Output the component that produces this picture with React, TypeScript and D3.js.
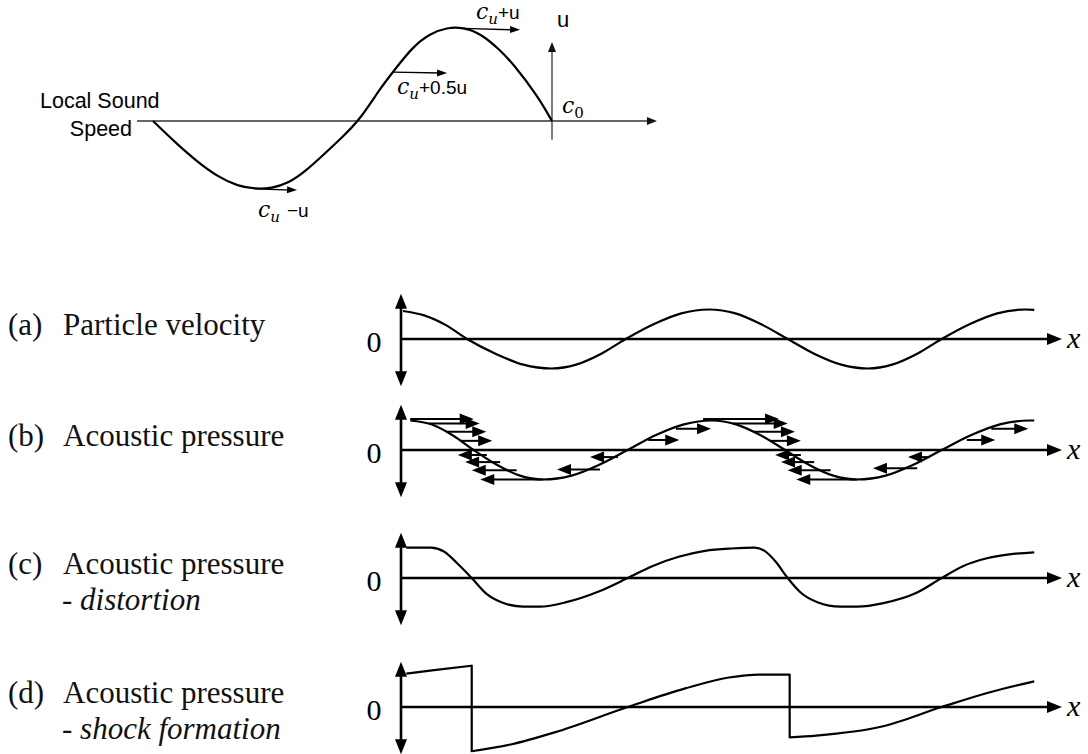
import React from "react";
import * as d3 from "d3";

// ---------- Top diagram data (x: 0 = wave start, 100 = u-axis; y: u / u_max) ----------
const topWave: [number, number][] = [
  [0, 0], [5.5, -0.225], [11.0, -0.43], [16.3, -0.595], [21.3, -0.694], [25.6, -0.723],
  [29.8, -0.715], [33.8, -0.665], [38.1, -0.54], [43.1, -0.345], [47.4, -0.172], [51.6, 0],
  [56.9, 0.345], [60.2, 0.525], [65.2, 0.795], [69.4, 0.93], [73.7, 0.995], [77.7, 0.995],
  [82.0, 0.935], [87.0, 0.755], [90.2, 0.61], [96.2, 0.28], [100, 0],
];
// speed arrows: [x0, y0, x1, y1]
const topArrows: [number, number, number, number][] = [
  [25.6, -0.72, 36.1, -0.735],
  [60.2, 0.52, 73.7, 0.51],
  [77.7, 0.985, 92.0, 0.97],
];
const topAxisX: [number, number] = [-4, 126.3];
const topAxisU: [number, number] = [-0.2, 0.84];

// ---------- Lower panels (x: 0..100 along the axis; y: normalised amplitude) ----------
const panelLetters = ["(a)", "(b)", "(c)", "(d)"];
const panelTitles = ["Particle velocity", "Acoustic pressure", "Acoustic pressure", "Acoustic pressure"];
const panelSubtitles = ["", "", "distortion", "shock formation"];

const waveA: [number, number][] = [
  [0.3, 0.95], [3.5, 0.8], [6.8, 0.47], [10, 0], [14.3, -0.5], [18.5, -0.87], [22.8, -1],
  [26.5, -0.87], [30.3, -0.5], [34, 0], [38.2, 0.5], [42.4, 0.87], [46.6, 1], [50.6, 0.87],
  [54.5, 0.5], [58.5, 0], [62.5, -0.5], [66.6, -0.87], [70.6, -1], [74.3, -0.87], [78.1, -0.5],
  [81.8, 0], [86, 0.5], [90.2, 0.87], [94.5, 1.0], [95.8, 0.99],
];
const waveB: [number, number][] = [
  [1.4, 1.0], [4.6, 0.87], [7.8, 0.5], [11, 0], [14.5, -0.5], [18, -0.87], [21.5, -1],
  [25.8, -0.87], [30, -0.5], [34.3, 0], [38.5, 0.5], [42.8, 0.87], [47, 1], [50.7, 0.87],
  [54.4, 0.5], [58.1, 0], [61.7, -0.5], [65.4, -0.87], [69, -1], [73.3, -0.87], [77.5, -0.5],
  [81.8, 0], [86.2, 0.5], [90.6, 0.87], [95, 1], [95.8, 1],
];
// pressure-point speed arrows on (b): [y, tail x, head x]
const arrowsB: [number, number, number][] = [
  [1.05, 1.4, 11.0], [0.9, 4.2, 11.9], [0.62, 6.9, 12.9], [0.31, 9.1, 13.8],
  [-0.17, 13.0, 8.6], [-0.41, 15.0, 9.7], [-0.69, 17.5, 10.7], [-1.0, 21.5, 12.0],
  [-0.66, 30.1, 23.6], [-0.24, 32.8, 28.6], [0.34, 37.4, 42.1], [0.72, 41.6, 46.9],
  [1.05, 45.7, 57.2], [0.9, 50.2, 58.5], [0.62, 53.4, 59.6], [0.31, 55.9, 60.5],
  [-0.17, 60.5, 56.6], [-0.41, 62.5, 57.5], [-0.69, 65.0, 58.5], [-1.0, 69.0, 59.8],
  [-0.62, 78.1, 71.4], [-0.24, 80.0, 76.7], [0.34, 85.6, 89.9], [0.72, 89.3, 94.9],
];
const waveC: [number, number][] = [
  [0.8, 1.03], [4.5, 1.03], [6.5, 0.9], [8.5, 0.5], [10.7, 0], [13, -0.55], [15.5, -0.85],
  [18.5, -0.97], [21, -0.97], [25, -0.82], [30, -0.45], [34.3, 0], [38, 0.4], [42, 0.72],
  [46, 0.92], [50, 1.0], [53.5, 1.03], [55, 0.92], [56.7, 0.55], [58.5, 0], [60.5, -0.5],
  [63, -0.82], [66.5, -0.97], [69, -0.97], [73, -0.85], [78, -0.5], [81.8, 0], [85, 0.4],
  [88.5, 0.66], [92, 0.8], [95.8, 0.87],
];
// shock wave: smooth pieces joined by vertical jumps
const waveD: [number, number][][] = [
  [[0.8, 1.13], [5, 1.25], [10.7, 1.4]],
  [[10.7, -1.5], [16.6, -1.27], [23.1, -0.87], [34.3, 0], [43.0, 0.63], [49.6, 1.0], [54.2, 1.1], [58.8, 1.1]],
  [[58.8, -1.03], [62.8, -0.97], [72.6, -0.67], [81.8, 0], [89.1, 0.5], [95.8, 0.87]],
];

// ---------- layout ----------
const W = 1088, H = 754;
const panelAxisY = [339, 450, 578, 707];
const AMP = 29.5;

function head(x1: number, y1: number, x2: number, y2: number, len: number, w: number) {
  const dx = x2 - x1, dy = y2 - y1;
  const L = Math.hypot(dx, dy) || 1;
  const ux = dx / L, uy = dy / L;
  const bx = x2 - ux * len, by = y2 - uy * len;
  const px = -uy * (w / 2), py = ux * (w / 2);
  return `${x2},${y2} ${bx + px},${by + py} ${bx - px},${by - py}`;
}

const serif = "'Liberation Serif', 'Times New Roman', serif";
const sans = "'Liberation Sans', Arial, sans-serif";
const math = "'DejaVu Serif', serif";

function CU({ x, y, rest, sub = "u", gap = 0, subItalic = true }: { x: number; y: number; rest: string; sub?: string; gap?: number; subItalic?: boolean }) {
  return (
    <text x={x} y={y} fill="#000">
      <tspan fontFamily={math} fontStyle="italic" fontSize={22}>c</tspan>
      <tspan fontFamily={math} fontStyle={subItalic ? "italic" : "normal"} fontSize={15} dy={5}>{sub}</tspan>
      <tspan fontFamily={sans} fontSize={19} dy={-5} dx={gap}>{rest}</tspan>
    </text>
  );
}

export default function App() {
  const tx = d3.scaleLinear().domain([0, 100]).range([153, 552]);
  const ty = d3.scaleLinear().domain([0, 1]).range([121, 27]);
  const topLine = d3.line<[number, number]>().x(d => tx(d[0])).y(d => ty(d[1])).curve(d3.curveBasis);

  const lx = d3.scaleLinear().domain([0, 100]).range([401, 1062]);

  const ax0 = tx(topAxisX[0]), ax1 = tx(topAxisX[1]);
  const uX = tx(100), u0 = ty(topAxisU[0]), u1 = ty(topAxisU[1]);

  const waves = [waveA, waveB, waveC];

  return (
    <svg width={W} height={H} style={{ position: "absolute", left: 0, top: 0, background: "#fff" }}>
      {/* ---------- top diagram ---------- */}
      <line x1={ax0} y1={ty(0)} x2={ax1 - 8} y2={ty(0)} stroke="#333" strokeWidth={1.4} />
      <polygon points={head(ax0, ty(0), ax1, ty(0), 10, 8)} fill="#111" />
      <line x1={uX} y1={u0} x2={uX} y2={u1 + 8} stroke="#444" strokeWidth={1.4} />
      <polygon points={head(uX, u0, uX, u1, 10, 8)} fill="#111" />
      <path d={topLine(topWave) || ""} fill="none" stroke="#000" strokeWidth={2.2} />
      {topArrows.map((a, i) => {
        const x1 = tx(a[0]), y1 = ty(a[1]), x2 = tx(a[2]), y2 = ty(a[3]);
        return (
          <g key={i}>
            <line x1={x1} y1={y1} x2={x2 - 6} y2={y2} stroke="#000" strokeWidth={1.4} />
            <polygon points={head(x1, y1, x2, y2, 10, 7)} fill="#000" />
          </g>
        );
      })}
      <text x={40} y={108} fontFamily={sans} fontSize={21.5} fill="#000">Local Sound</text>
      <text x={132} y={136} fontFamily={sans} fontSize={21.5} fill="#000" textAnchor="end">Speed</text>
      <text x={557} y={27} fontFamily={sans} fontSize={22} fill="#000">u</text>
      <CU x={562} y={113} rest="" sub="0" subItalic={false} />
      <CU x={258} y={217} rest="−u" gap={7} />
      <CU x={397} y={94} rest="+0.5u" />
      <CU x={476} y={19} rest="+u" />

      {/* ---------- lower panels ---------- */}
      {panelAxisY.map((ay, i) => {
        const ly = d3.scaleLinear().domain([0, 1]).range([ay, ay - AMP]);
        const line = d3.line<[number, number]>().x(d => lx(d[0])).y(d => ly(d[1])).curve(d3.curveMonotoneX);
        let dPath = "";
        if (i < 3) dPath = line(waves[i]) || "";
        else dPath = waveD.map((seg, k) => { const s = line(seg) || ""; return k === 0 ? s : s.replace(/^M/, "L"); }).join("");
        const vx = lx(0);
        const top = ly(1.53), bot = ly(-1.6);
        const xEnd = lx(100);
        return (
          <g key={i}>
            <line x1={vx} y1={top + 10} x2={vx} y2={bot - 10} stroke="#000" strokeWidth={2.6} />
            <polygon points={head(vx, ay, vx, top, 15, 12)} fill="#000" />
            <polygon points={head(vx, ay, vx, bot, 15, 12)} fill="#000" />
            <line x1={vx} y1={ay} x2={xEnd - 10} y2={ay} stroke="#000" strokeWidth={2.4} />
            <polygon points={head(vx, ay, xEnd, ay, 15, 12)} fill="#000" />
            <path d={dPath} fill="none" stroke="#000" strokeWidth={2.2} strokeLinejoin="round" />
            {i === 1 && arrowsB.map((a, k) => {
              const yy = ly(a[0]), x1 = lx(a[1]), x2 = lx(a[2]);
              const dir = x2 > x1 ? 1 : -1;
              return (
                <g key={k}>
                  <line x1={x1} y1={yy} x2={x2 - dir * 8} y2={yy} stroke="#000" strokeWidth={2} />
                  <polygon points={head(x1, yy, x2, yy, 14, 11)} fill="#000" />
                </g>
              );
            })}
            <text x={374} y={ay + 13} fontFamily={serif} fontSize={30} textAnchor="middle" fill="#000">0</text>
            <text x={1067} y={ay + 9} fontFamily={serif} fontStyle="italic" fontSize={30} fill="#000">x</text>
            <text x={8} y={ay - 4} fontFamily={serif} fontSize={31} fill="#111">{panelLetters[i]}</text>
            <text x={63} y={ay - 4} fontFamily={serif} fontSize={31} fill="#111">{panelTitles[i]}</text>
            {panelSubtitles[i] && (
              <text x={62} y={ay + 32} fontFamily={serif} fontSize={31} fill="#111">
                <tspan>- </tspan>
                <tspan fontStyle="italic">{panelSubtitles[i]}</tspan>
              </text>
            )}
          </g>
        );
      })}
    </svg>
  );
}
